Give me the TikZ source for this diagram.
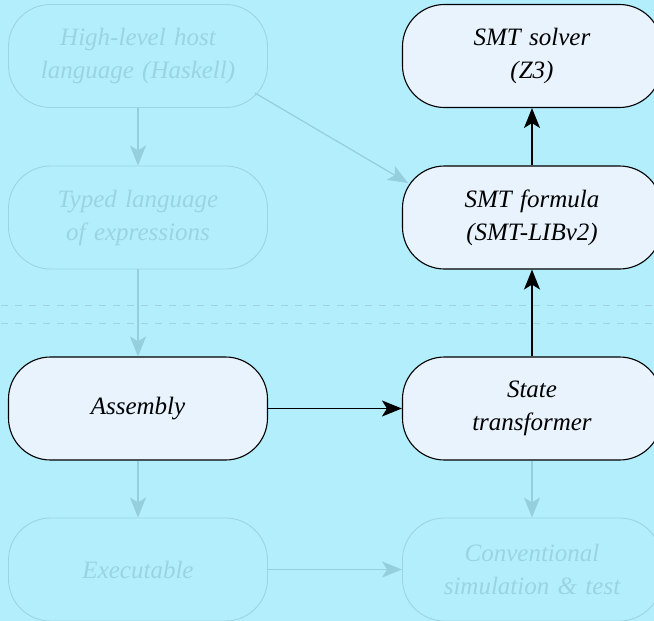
\documentclass[tikz,border=0pt]{standalone}
\usepackage{fontspec}
\setmainfont{Liberation Serif}
\usetikzlibrary{arrows.meta}
\definecolor{bg}{HTML}{B3EEFD}
\definecolor{boxfill}{HTML}{E8F3FE}
\definecolor{fadeline}{HTML}{95CEDD}
\definecolor{fadetext}{HTML}{9AD4E3}
\definecolor{fadeborder}{HTML}{9ED4E2}
\definecolor{sepline}{HTML}{A0D2DF}
\begin{document}
\begin{tikzpicture}[x=1pt,y=-1pt,
  stage/.style={rectangle, rounded corners=42pt, minimum width=259pt,
    minimum height=103pt, text width=240pt, align=center,
    font=\fontsize{25}{33}\selectfont\itshape, line width=1.1pt},
  active/.style={stage, draw=black, fill=boxfill, text=black},
  faded/.style={stage, draw=fadeborder, text=fadetext, line width=0.9pt},
  flow/.style={-{Stealth[length=20pt,width=16pt,inset=5pt]}, line width=1.3pt, color=black},
  fadeflow/.style={flow, line width=1.2pt, color=fadeline},
  separator/.style={draw=sepline, line width=0.9pt, dash pattern=on 7pt off 7pt, dash phase=13pt}]
  \useasboundingbox (0,0) rectangle (654,621);
  \fill[bg] (0,0) rectangle (654,621);
  \clip (0,0) rectangle (654,621);

  % separators between the front end and the back end
  \draw[separator] (0,305) -- (654,305);
  \draw[separator] (0,323) -- (654,323);

  % left column
  \node[faded]  (hl)  at (138,56)    {High-level host\\language (Haskell)};
  \node[faded]  (ty)  at (138,217.5) {Typed language\\of expressions};
  \node[active] (as)  at (138,408.5) {Assembly};
  \node[faded]  (ex)  at (138,569.5) {Executable};

  % right column
  \node[active] (z3)  at (532,56)    {SMT solver\\(Z3)};
  \node[active] (fm)  at (532,217.5) {SMT formula\\(SMT-LIBv2)};
  \node[active] (st)  at (532,408.5) {State\\transformer};
  \node[faded]  (cv)  at (532,569.5) {Conventional\\simulation \& test};

  % faded flows
  \draw[fadeflow] (hl) -- (ty);
  \draw[fadeflow] (ty) -- (as);
  \draw[fadeflow] (as) -- (ex);
  \draw[fadeflow] (ex) -- (cv);
  \draw[fadeflow] (st) -- (cv);
  \draw[fadeflow] ([shift={(117,37)}]hl.center) -- ([shift={(-124,-34.5)}]fm.center);

  % verification path
  \draw[flow] (as) -- (st);
  \draw[flow] (st) -- (fm);
  \draw[flow] (fm) -- (z3);
\end{tikzpicture}
\end{document}
